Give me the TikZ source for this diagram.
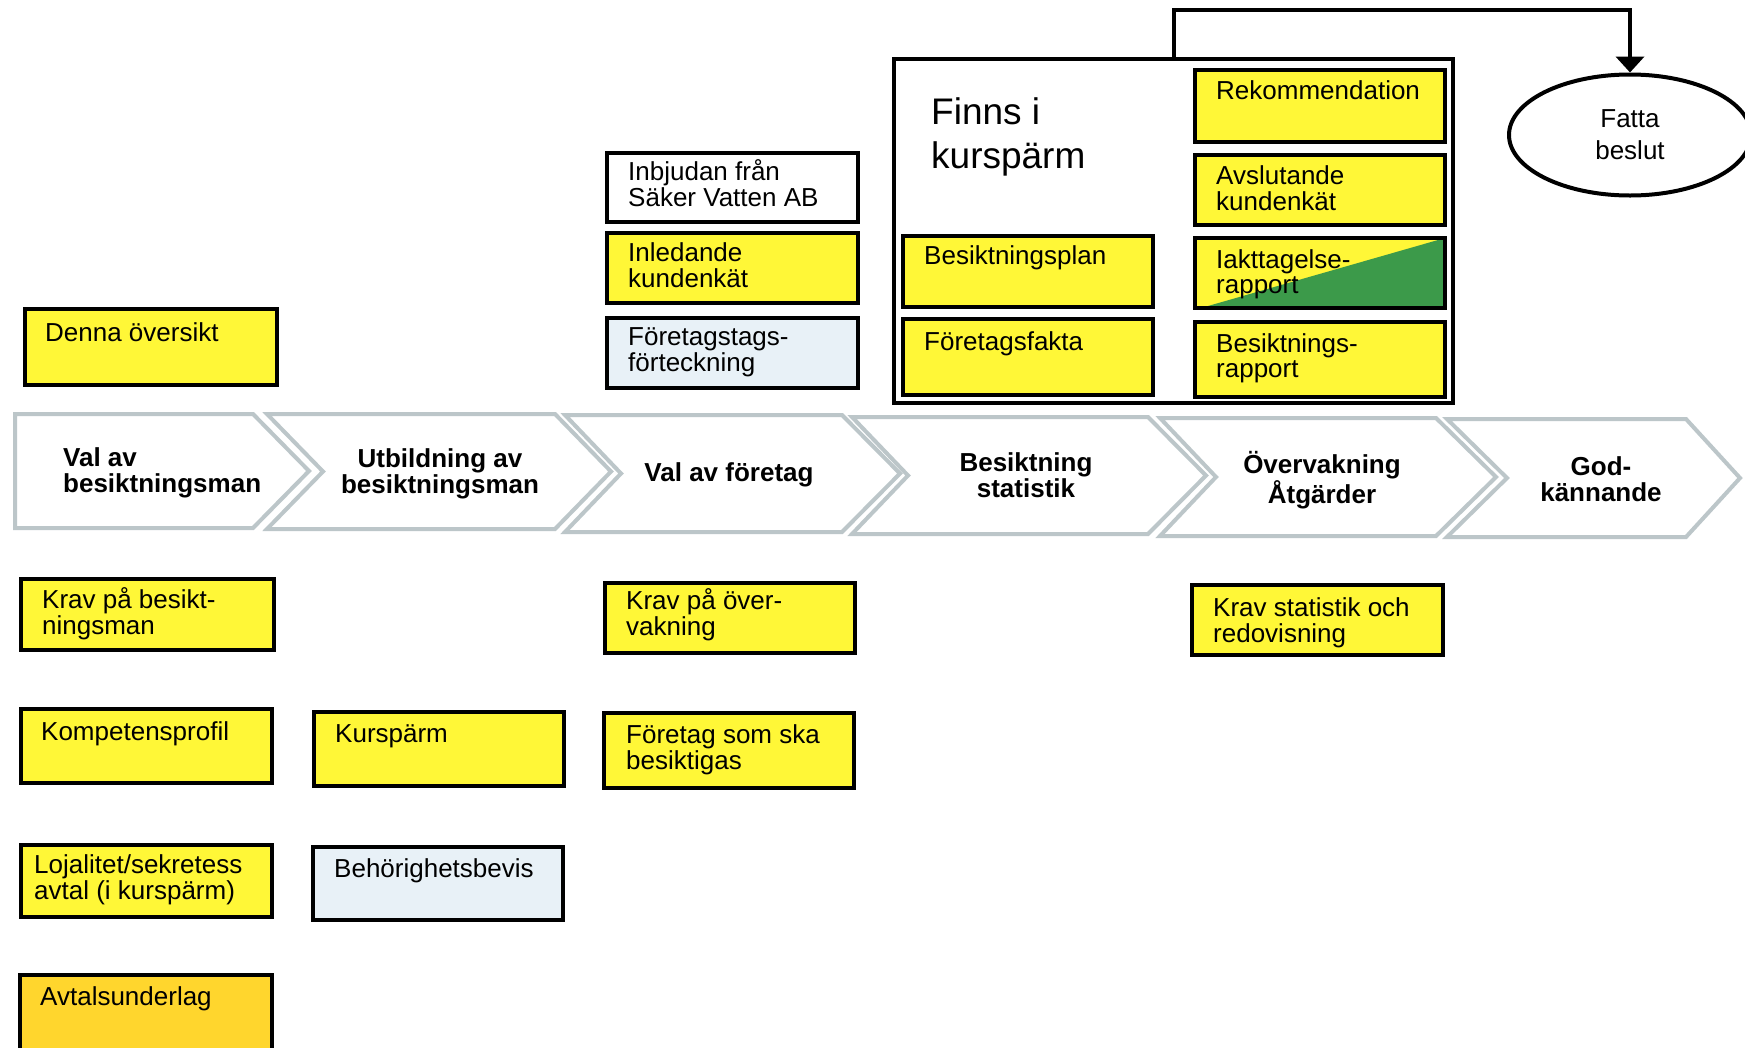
\documentclass[tikz,border=0pt]{standalone}
\usepackage{fontspec}
\setmainfont{Liberation Sans}
\usetikzlibrary{shapes.geometric,arrows.meta}
\definecolor{boxyellow}{RGB}{255,247,55}
\definecolor{boxorange}{RGB}{255,214,45}
\definecolor{boxblue}{RGB}{232,241,247}
\definecolor{boxgreen}{RGB}{60,154,74}
\definecolor{chevgrey}{RGB}{188,198,201}
% name, x1, y1, x2, y2, fill, text x, text baseline y, text
\newcommand\ddbox[9]{%
  \node[boxst,fill=#6,minimum width=#4-#2,minimum height=#5-#3,anchor=north west] (#1) at (#2,#3) {};
  \node[txt] (#1t) at (#7,#8) {\begin{tabular}[t]{@{}l@{}}#9\end{tabular}};}
\begin{document}
\begin{tikzpicture}[x=1pt,y=-1pt,
  boxst/.style={draw=black,line width=4.5pt,inner sep=0,outer sep=0},
  txt/.style={inner sep=0,anchor=base west,font=\fontsize{26}{25}\selectfont},
  chev/.style={draw=chevgrey,line width=4pt,fill=white,line join=miter},
  chevtxt/.style={inner sep=0,font=\fontsize{26}{26}\selectfont\bfseries}]
\useasboundingbox[fill=white] (0,0) rectangle (1745,1047);

% process chevrons
\draw[chev] (15,414) -- (253,414) -- (309,471) -- (253,528) -- (15,528) -- cycle;
\draw[chev] (267,414) -- (555,414) -- (611,471.5) -- (555,529) -- (267,529) -- (323,471.5) -- cycle;
\draw[chev] (565,415) -- (842,415) -- (900,473.5) -- (842,532) -- (565,532) -- (621,473.5) -- cycle;
\draw[chev] (852,417) -- (1148,417) -- (1206,475.5) -- (1148,534) -- (852,534) -- (908,475.5) -- cycle;
\draw[chev] (1160,418) -- (1436,418) -- (1496,477) -- (1436,536) -- (1160,536) -- (1216,477) -- cycle;
\draw[chev] (1447,419) -- (1686,419) -- (1740,478) -- (1686,537) -- (1447,537) -- (1507,478) -- cycle;

\node[chevtxt,anchor=base west] (c1t) at (63,466) {\begin{tabular}[t]{@{}l@{}}Val av\\besiktningsman\end{tabular}};
\node[chevtxt,anchor=base] (c2t) at (440,467) {\begin{tabular}[t]{@{}c@{}}Utbildning av\\besiktningsman\end{tabular}};
\node[chevtxt,anchor=base] (c3t) at (729,481) {Val av företag};
\node[chevtxt,anchor=base] (c4t) at (1026,471) {\begin{tabular}[t]{@{}c@{}}Besiktning\\statistik\end{tabular}};
\node[chevtxt,anchor=base] (c5t) at (1322,473) {\begin{tabular}[t]{@{}c@{}}Övervakning\\Åtgärder\end{tabular}};
\node[chevtxt,anchor=base] (c6t) at (1601,475) {\begin{tabular}[t]{@{}c@{}}God-\\kännande\end{tabular}};

% left column
\ddbox{denna}{25}{309}{277}{385}{boxyellow}{45}{341}{Denna översikt}
\ddbox{kravb}{21}{579}{274}{650}{boxyellow}{42}{608}{Krav på besikt-\\ningsman}
\ddbox{komp}{21}{709}{272}{783}{boxyellow}{41}{740}{Kompetensprofil}
\ddbox{loj}{21}{845}{272}{917}{boxyellow}{34}{873}{Lojalitet/sekretess\\avtal (i kurspärm)}
\ddbox{avtal}{20}{975}{272}{1062}{boxorange}{40}{1005}{Avtalsunderlag}

% second column
\ddbox{kurs}{314}{712}{564}{786}{boxyellow}{335}{742}{Kurspärm}
\ddbox{behor}{313}{847}{563}{920}{boxblue}{334}{877}{Behörighetsbevis}

% third column
\ddbox{inbj}{607}{153}{858}{222}{white}{628}{180}{Inbjudan från\\Säker Vatten AB}
\ddbox{inled}{607}{233}{858}{303}{boxyellow}{628}{261}{Inledande\\kundenkät}
\ddbox{fort}{607}{318}{858}{388}{boxblue}{628}{345}{Företagstags-\\förteckning}
\ddbox{kravo}{605}{583}{855}{653}{boxyellow}{626}{609}{Krav på över-\\vakning}
\ddbox{ftgb}{604}{713}{854}{788}{boxyellow}{626}{743}{Företag som ska\\besiktigas}

% fifth column
\ddbox{kravs}{1192}{585}{1443}{655}{boxyellow}{1213}{616}{Krav statistik och\\redovisning}

% Finns i kurspärm group
\node[draw=black,line width=4.5pt,fill=white,inner sep=0,outer sep=0,minimum width=559,minimum height=344] (fin) at (1173.5,231) {};
\node[inner sep=0,anchor=base west,font=\fontsize{37}{44}\selectfont] (fint) at (931,124) {\begin{tabular}[t]{@{}l@{}}Finns i\\kurspärm\end{tabular}};
\ddbox{rek}{1195}{70}{1445}{142}{boxyellow}{1216}{99}{Rekommendation}
\ddbox{avsl}{1195}{155}{1445}{225}{boxyellow}{1216}{184}{Avslutande\\kundenkät}
\node[boxst,draw=none,fill=boxyellow,minimum width=250,minimum height=70,anchor=north west] (ia) at (1195,238) {};
\fill[boxgreen] ([xshift=6pt]ia.south west) -- (ia.south east) -- (ia.north east) -- cycle;
\draw[line width=4.5pt] (ia.south west) rectangle (ia.north east);
\node[txt] (iat) at (1216,268) {\begin{tabular}[t]{@{}l@{}}Iakttagelse-\\rapport\end{tabular}};
\ddbox{besr}{1195}{322}{1445}{397}{boxyellow}{1216}{352}{Besiktnings-\\rapport}
\ddbox{besp}{903}{236}{1153}{307}{boxyellow}{924}{264}{Besiktningsplan}
\ddbox{ffakta}{903}{319}{1153}{395}{boxyellow}{924}{350}{Företagsfakta}

% decision
\node[ellipse,draw=black,line width=4pt,fill=white,minimum width=242,minimum height=121,inner sep=0,align=center,font=\fontsize{26}{32}\selectfont] (fatta) at (1630,135) {Fatta\\beslut};
\draw[line width=4pt,-{Triangle[width=28pt,length=16pt]}] (fin.north) -- ++(0,-49) -| (fatta.north);
\end{tikzpicture}
\end{document}
